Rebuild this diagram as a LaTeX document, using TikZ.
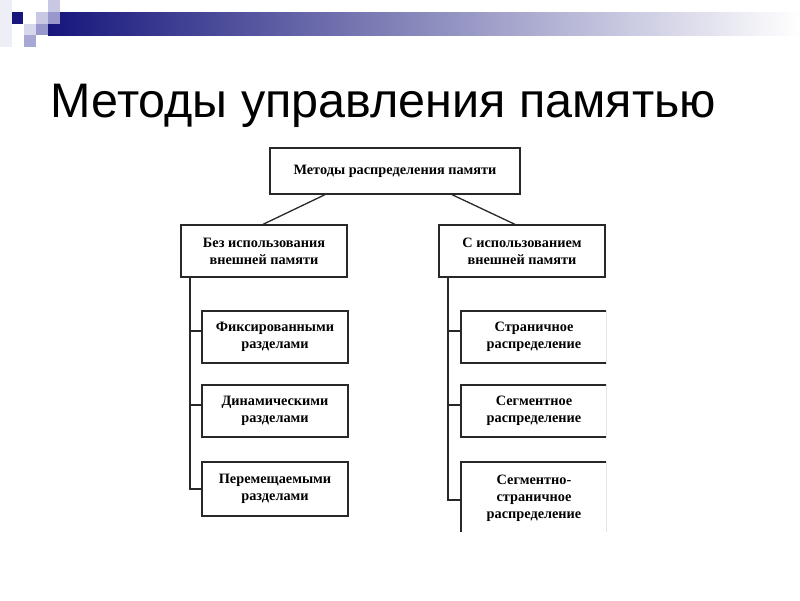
\documentclass[tikz,border=0pt]{standalone}
\usepackage{fontspec}
\setmainfont{Liberation Serif}
\newfontfamily\titlefont{Liberation Sans}
\definecolor{slnavy}{RGB}{22,22,124}
\definecolor{sqlight}{RGB}{200,200,228}
\definecolor{sqmid}{RGB}{152,152,204}
\definecolor{sqpale}{RGB}{214,214,236}
\definecolor{sqfaint}{RGB}{238,238,246}
\definecolor{treeline}{RGB}{40,40,40}
\begin{document}
\begin{tikzpicture}[x=1pt, y=-1pt,
    box/.style={draw=treeline, line width=1.3pt, align=center, inner sep=2pt,
      font=\fontsize{14.3}{17}\selectfont\bfseries},
    link/.style={treeline, line width=1.3pt}]
    % slide frame and header bar
    \useasboundingbox (0,0) rectangle (800,600);
    \fill[sqfaint] (0,0) rectangle (12,47);
    \shade[left color=slnavy, right color=white] (48,12) rectangle (800,35);
    \fill[slnavy] (12,12) rectangle (23,24);
    \fill[sqlight] (48,0) rectangle (60,12);
    \fill[sqlight] (36,12) rectangle (48,24);
    \fill[sqmid] (48,12) rectangle (60,24);
    \fill[sqpale] (24,24) rectangle (36,35);
    \fill[sqmid] (36,24) rectangle (48,35);
    \fill[sqmid!85] (24,35) rectangle (36,47);
    \node[anchor=base west, inner sep=0pt, font=\titlefont\fontsize{48.5}{56}\selectfont] (title) at (50.5,117) {Методы управления памятью};
    % the tree, cut off at the right and at the bottom
    \begin{scope}
      \clip (0,0) rectangle (606,531);
      \node[box, minimum width=250pt, minimum height=46pt] (top) at (395,171) {Методы распределения памяти};
      \node[box, minimum width=166pt, minimum height=52pt] (bez) at (264,251) {Без использования\\внешней памяти};
      \node[box, minimum width=166pt, minimum height=52pt] (sisp) at (522,251) {С использованием\\внешней памяти};
      \node[box, minimum width=146pt, minimum height=52pt] (fix) at (275,337) {Фиксированными\\разделами};
      \node[box, minimum width=146pt, minimum height=52pt] (dyn) at (275,411) {Динамическими\\разделами};
      \node[box, minimum width=146pt, minimum height=54pt] (rel) at (275,489) {Перемещаемыми\\разделами};
      \node[box, minimum width=146pt, minimum height=52pt] (page) at (534,337) {Страничное\\распределение};
      \node[box, minimum width=146pt, minimum height=52pt] (seg) at (534,411) {Сегментное\\распределение};
      \node[box, minimum width=146pt, minimum height=72pt] (segpage) at (534,498) {Сегментно-\\страничное\\распределение};
      \draw[link] ([xshift=-70pt]top.south) -- ([xshift=-1pt]bez.north);
      \draw[link] ([xshift=57pt]top.south) -- ([xshift=-7pt]sisp.north);
      \coordinate (lv) at ([xshift=9.5pt]bez.south west);
      \coordinate (rv) at ([xshift=9.5pt]sisp.south west);
      \draw[link] (lv) |- ([yshift=6pt]fix.west);
      \draw[link] (lv) |- ([yshift=6pt]dyn.west);
      \draw[link] (lv) |- (rel.west);
      \draw[link] (rv) |- ([yshift=6pt]page.west);
      \draw[link] (rv) |- ([yshift=6pt]seg.west);
      \draw[link] (rv) |- ([yshift=-2pt]segpage.west);
    \end{scope}
\end{tikzpicture}
\end{document}
